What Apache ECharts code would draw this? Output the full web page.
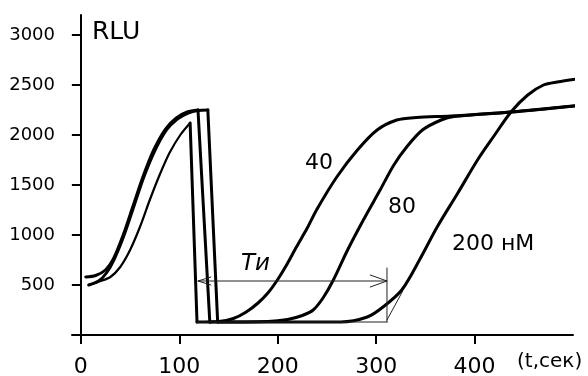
<!DOCTYPE html>
<html>
<head>
<meta charset="utf-8">
<script src="https://cdn.jsdelivr.net/npm/echarts@6/dist/echarts.min.js"></script>
<style>
html,body{margin:0;padding:0;background:#fff;}
#main{width:588px;height:376px;}
</style>
</head>
<body>
<div id="main"></div>
<script>
// t, сек / RLU
var xTicks = [0, 100, 200, 300, 400];
var yTicks = [500, 1000, 1500, 2000, 2500, 3000];

// 40 нМ
var c40Rise1 = [[8,500],[20,540],[30,580],[40,680],[50,850],[60,1080],[70,1350],[80,1600],[90,1820],[101,2000],[111,2120]];
var c40Rise2 = [[118,130],[140,135],[155,165],[168,230],[180,320],[190,420],[199,540],[209,700],[219,880],[230,1070],[240,1260],[260,1580],[281,1850],[301,2050],[321,2150],[341,2175],[376,2190],[437,2230],[511,2300]];
// 80 нМ
var c80Rise1 = [[5,580],[15,595],[25,650],[33,760],[43,1000],[53,1290],[63,1580],[74,1850],[86,2060],[97,2170],[108,2230],[119,2250]];
var c80Rise2 = [[131,130],[190,135],[210,155],[225,195],[236,250],[246,370],[256,540],[271,850],[287,1150],[304,1450],[318,1700],[331,1880],[347,2050],[366,2150],[379,2185],[437,2230],[511,2300]];
// 200 нМ
var c200Rise1 = [[8,500],[18,540],[26,620],[34,760],[44,1000],[54,1290],[64,1580],[75,1840],[87,2050],[98,2160],[109,2220],[119,2245],[129,2250]];
var c200Rise2 = [[139,130],[264,130],[291,180],[307,280],[326,450],[344,750],[362,1080],[383,1420],[403,1750],[419,1980],[437,2230],[454,2400],[470,2500],[484,2530],[511,2570]];

// Ти — интервал
var tiSpan = [119, 311];
var tiLevel = 540;
var tiMark = [[311,130],[311,670]];
var tiBase = [[118,130],[311,130]];
var tiTangent = [[311,150],[327,440]];
var tiHeadLeft = [[132,580],[119,540],[132,500]];
var tiHeadRight = [[294,600],[311,540],[294,480]];

var FONT = 'DejaVu Sans';

function curve(data, smooth, width, color)
{
	return {
		type: 'line',
		data: data,
		smooth: smooth,
		symbol: 'none',
		clip: false,
		silent: true,
		animation: false,
		lineStyle: {color: color || '#000', width: width, cap: 'round', join: 'round'}
	};
}

var series = [];
var curves = [[c40Rise1, c40Rise2, 2.2], [c80Rise1, c80Rise2, 3], [c200Rise1, c200Rise2, 3]];
for (var i = 0; i < curves.length; i++)
{
	var r1 = curves[i][0], r2 = curves[i][1];
	series.push(curve(r1, 0.3, curves[i][2]));
	series.push(curve([r1[r1.length - 1], r2[0]], false, 3));//спад
	series.push(curve(r2, 0.3, 3));
}
// тонкие линии для Ти
var thin = '#222';
series.push(curve([[tiSpan[0], tiLevel], [tiSpan[1], tiLevel]], false, 1, thin));
series.push(curve(tiMark, false, 1, thin));
series.push(curve(tiBase, false, 1, thin));
series.push(curve(tiTangent, false, 1, thin));
series.push(curve(tiHeadLeft, false, 1, thin));
series.push(curve(tiHeadRight, false, 1, thin));

function txt(s, x, y, size, italic)
{
	return {
		type: 'text', x: x, y: y, silent: true,
		style: {text: s, fill: '#000', font: (italic ? 'italic ' : '') + size + 'px "' + FONT + '"', verticalAlign: 'middle'}
	};
}

var myChart = echarts.init(document.getElementById('main'), null, {renderer: 'canvas'});
var option = {
	backgroundColor: '#fff',
	animation: false,
	grid: {left: 72, right: 15, top: 15, bottom: 33, outerBoundsMode: 'none', containLabel: false},
	xAxis: {
		type: 'value', min: -9, max: 500,
		splitLine: {show: false},
		axisLine: {lineStyle: {color: '#000', width: 2}},
		axisTick: {length: 9, lineStyle: {color: '#000', width: 2}, customValues: xTicks},
		axisLabel: {customValues: xTicks, color: '#000', fontFamily: FONT, fontSize: 22, margin: 13}
	},
	yAxis: {
		type: 'value', min: -80, max: 3200,
		splitLine: {show: false},
		axisLine: {onZero: true, lineStyle: {color: '#000', width: 2}},
		axisTick: {length: 9, lineStyle: {color: '#000', width: 2}, customValues: yTicks},
		axisLabel: {customValues: yTicks, color: '#000', fontFamily: FONT, fontSize: 18, margin: 17,
			formatter: function (v) { return String(v); }}
	},
	graphic: [
		txt('RLU', 92, 32, 25),
		txt('40', 305, 163, 22),
		txt('80', 388, 207, 22),
		txt('200 нМ', 452, 244, 22),
		txt('Tи', 241, 264, 23, true),
		txt('(t,сек)', 517, 362, 20)
	],
	series: series
};
myChart.setOption(option);
</script>
</body>
</html>
